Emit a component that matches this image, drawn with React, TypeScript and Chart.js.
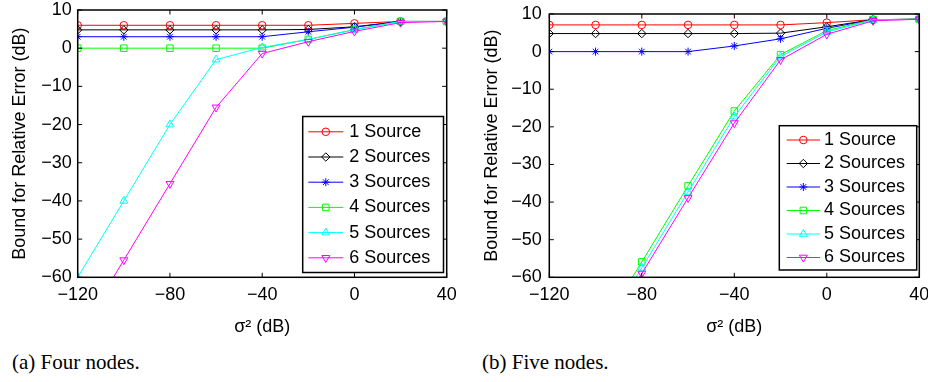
import React, { useEffect, useRef } from 'react';
import { Chart, registerables } from 'chart.js';
import { drawPoint } from 'chart.js/helpers';

Chart.register(...registerables);

// ---------- data ----------
const sigma2 = [-120, -100, -80, -60, -40, -20, 0, 20, 40];
const seriesNames = ['1 Source', '2 Sources', '3 Sources', '4 Sources', '5 Sources', '6 Sources'];

// (a) Four nodes
const four1 = [6, 6, 6, 6, 6, 6, 6.5, 7, 7];
const four2 = [4.8, 4.8, 4.8, 4.8, 4.8, 4.9, 5.6, 7, 7];
const four3 = [3, 3, 3, 3, 3, 4.3, 5.5, 7, 7];
const four4 = [0, 0, 0, 0, 0, 2.3, 4.9, 7, 7];
const four5 = [-60, -40, -20, -3, 0.2, 2.3, 4.8, 7, 7];
const four6 = [-75.5, -55.5, -35.5, -15.5, -1.4, 1.7, 4.4, 6.7, 7];

// (b) Five nodes
const five1 = [7.1, 7.1, 7.1, 7.1, 7.1, 7.1, 7.7, 8.5, 8.6];
const five2 = [4.8, 4.8, 4.8, 4.8, 4.8, 4.9, 6.6, 8.5, 8.6];
const five3 = [0, 0, 0, 0, 1.5, 3.4, 6.2, 8.5, 8.6];
const five4 = [-96, -76, -55.9, -35.7, -15.8, -0.8, 5.6, 8.5, 8.6];
const five5 = [-97.5, -77.5, -57.5, -37.3, -17.3, -1.3, 5.2, 8.4, 8.6];
const five6 = [-99, -79, -59, -38.9, -19, -2.2, 4.6, 8.2, 8.6];

const xTickValues = [-120, -80, -40, 0, 40];
const yTickValues = [10, 0, -10, -20, -30, -40, -50, -60];

const xTitle = 'σ² (dB)';
const yTitle = 'Bound for Relative Error (dB)';
const captionA = '(a) Four nodes.';
const captionB = '(b) Five nodes.';

// ---------- styles ----------
const colors = ['#ff0000', '#000000', '#0000ff', '#00ff00', '#00ffff', '#ff00ff'];
const pointStyles = ['circle', 'rectRot', 'star', 'rect', 'triangle', 'triangle'];
const rotations = [0, 0, 0, 0, 0, 180];
const radii = [3.8, 4.2, 4, 4.6, 4.6, 4.6];

const FONT = '"Liberation Sans", Arial, Helvetica, sans-serif';
const fmt = (v: number) => String(v).replace('-', '\u2212');

type PanelLayout = {
  canvasW: number;
  canvasH: number;
  plotLeft: number;
  plotRight: number;
  plotTop: number;
  plotBottom: number;
  yTitleCenter: number;
  yTickPad: number;
  legend: {
    left: number; top: number; right: number; bottom: number;
    firstRow: number; rowGap: number; lineX: number; lineLen: number; textX: number;
  };
};

function makeChart(canvas: HTMLCanvasElement, series: number[][], L: PanelLayout) {
  const datasets = series.map((vals, i) => ({
    label: seriesNames[i],
    data: sigma2.map((x, j) => ({ x, y: vals[j] })),
    borderColor: colors[i],
    backgroundColor: 'rgba(0,0,0,0)',
    pointBorderColor: colors[i],
    pointBackgroundColor: 'rgba(0,0,0,0)',
    pointStyle: pointStyles[i],
    pointRotation: rotations[i],
    pointRadius: radii[i],
    pointBorderWidth: 1,
    borderWidth: 1,
    tension: 0,
    order: series.length - i,
  }));

  const framePlugin = {
    id: 'frame',
    afterDatasetsDraw(chart: any) {
      const { ctx, chartArea: a, scales } = chart;
      ctx.save();
      ctx.strokeStyle = '#000';
      ctx.lineWidth = 1;
      const tl = 4.5;
      const seg = (x1: number, y1: number, x2: number, y2: number) => {
        ctx.beginPath(); ctx.moveTo(x1, y1); ctx.lineTo(x2, y2); ctx.stroke();
      };
      for (const t of scales.x.ticks) {
        const px = scales.x.getPixelForValue(t.value);
        seg(px, a.bottom, px, a.bottom - tl);
        seg(px, a.top, px, a.top + tl);
      }
      for (const t of scales.y.ticks) {
        const py = scales.y.getPixelForValue(t.value);
        seg(a.left, py, a.left + tl, py);
        seg(a.right, py, a.right - tl, py);
      }
      ctx.lineWidth = 1.5;
      ctx.strokeRect(a.left, a.top, a.right - a.left, a.bottom - a.top);
      ctx.restore();
    },
    afterDraw(chart: any) {
      const { ctx } = chart;
      const g = L.legend;
      ctx.save();
      ctx.fillStyle = '#fff';
      ctx.fillRect(g.left, g.top, g.right - g.left, g.bottom - g.top);
      ctx.strokeStyle = '#000';
      ctx.lineWidth = 1.5;
      ctx.strokeRect(g.left, g.top, g.right - g.left, g.bottom - g.top);
      chart.data.datasets.forEach((ds: any, i: number) => {
        const y = g.top + g.firstRow + i * g.rowGap;
        const x0 = g.left + g.lineX;
        ctx.strokeStyle = ds.borderColor;
        ctx.lineWidth = 1;
        ctx.beginPath(); ctx.moveTo(x0, y); ctx.lineTo(x0 + g.lineLen, y); ctx.stroke();
        ctx.fillStyle = 'rgba(0,0,0,0)';
        drawPoint(ctx, {
          pointStyle: ds.pointStyle,
          rotation: ds.pointRotation,
          radius: ds.pointRadius,
          borderWidth: 1,
        } as any, x0 + g.lineLen / 2, y);
        ctx.fillStyle = '#000';
        ctx.font = `18px ${FONT}`;
        ctx.textBaseline = 'middle';
        ctx.textAlign = 'left';
        ctx.fillText(ds.label, g.left + g.textX, y);
      });
      ctx.restore();
    },
  };

  return new Chart(canvas, {
    type: 'line',
    data: { datasets },
    options: {
      responsive: false,
      animation: false,
      devicePixelRatio: 1,
      layout: {
        padding: { left: 0, top: L.plotTop, right: L.canvasW - L.plotRight, bottom: 0 },
      },
      plugins: { legend: { display: false }, tooltip: { enabled: false } },
      scales: {
        x: {
          type: 'linear',
          min: -120,
          max: 40,
          grid: { display: false, drawTicks: false },
          border: { display: false },
          afterBuildTicks: (s: any) => { s.ticks = xTickValues.map((v) => ({ value: v })); },
          afterFit: (s: any) => {
            s.height = L.canvasH - L.plotBottom;
            s.paddingLeft = 0; s.paddingRight = 0;
          },
          ticks: {
            color: '#000', padding: 7, maxRotation: 0, autoSkip: false,
            font: { family: FONT, size: 18 },
            callback: (v: any) => fmt(Number(v)),
          },
          title: {
            display: true, text: xTitle, color: '#000',
            font: { family: FONT, size: 18 },
            padding: { top: 0, bottom: 2 },
          },
        },
        y: {
          type: 'linear',
          min: -60,
          max: 10,
          grid: { display: false, drawTicks: false },
          border: { display: false },
          afterBuildTicks: (s: any) => { s.ticks = yTickValues.map((v) => ({ value: v })); },
          afterFit: (s: any) => {
            s.width = L.plotLeft;
            s.paddingTop = 0; s.paddingBottom = 0;
          },
          ticks: {
            color: '#000', padding: L.yTickPad, autoSkip: false,
            font: { family: FONT, size: 18 },
            callback: (v: any) => fmt(Number(v)),
          },
          title: {
            display: true, text: yTitle, color: '#000',
            font: { family: FONT, size: 18 },
            padding: { top: L.yTitleCenter - 10.8, bottom: 0 },
          },
        },
      },
    } as any,
    plugins: [framePlugin],
  });
}

const leftLayout: PanelLayout = {
  canvasW: 464, canvasH: 340,
  plotLeft: 77.7, plotRight: 446.7, plotTop: 10, plotBottom: 277.3,
  yTitleCenter: 20, yTickPad: 6,
  legend: {
    left: 302.7, top: 116.5, right: 443.5, bottom: 272.5,
    firstRow: 15.3, rowGap: 25.2, lineX: 5.6, lineLen: 35, textX: 46.6,
  },
};

const rightLayout: PanelLayout = {
  canvasW: 464, canvasH: 340,
  plotLeft: 85.3, plotRight: 455.3, plotTop: 14, plotBottom: 277.3,
  yTitleCenter: 27.7, yTickPad: 7.6,
  legend: {
    left: 315.3, top: 125.7, right: 452.7, bottom: 270,
    firstRow: 14.3, rowGap: 23.5, lineX: 7.4, lineLen: 33.3, textX: 44.7,
  },
};

export default function App() {
  const leftRef = useRef<HTMLCanvasElement>(null);
  const rightRef = useRef<HTMLCanvasElement>(null);

  useEffect(() => {
    const a = makeChart(leftRef.current!, [four1, four2, four3, four4, four5, four6], leftLayout);
    const b = makeChart(rightRef.current!, [five1, five2, five3, five4, five5, five6], rightLayout);
    return () => { a.destroy(); b.destroy(); };
  }, []);

  const captionStyle: React.CSSProperties = {
    position: 'absolute', top: 350, fontFamily: '"Liberation Serif", "Times New Roman", serif',
    fontSize: 21, lineHeight: '24px', color: '#000', whiteSpace: 'nowrap',
  };

  return (
    <div style={{ position: 'fixed', left: 0, top: 0, width: 928, height: 382, overflow: 'hidden', background: '#fff' }}>
      <canvas ref={leftRef} width={464} height={340} style={{ position: 'absolute', left: 0, top: 0, display: 'block' }} />
      <canvas ref={rightRef} width={464} height={340} style={{ position: 'absolute', left: 464, top: 0, display: 'block' }} />
      <div style={{ ...captionStyle, left: 12 }}>{captionA}</div>
      <div style={{ ...captionStyle, left: 482 }}>{captionB}</div>
    </div>
  );
}
